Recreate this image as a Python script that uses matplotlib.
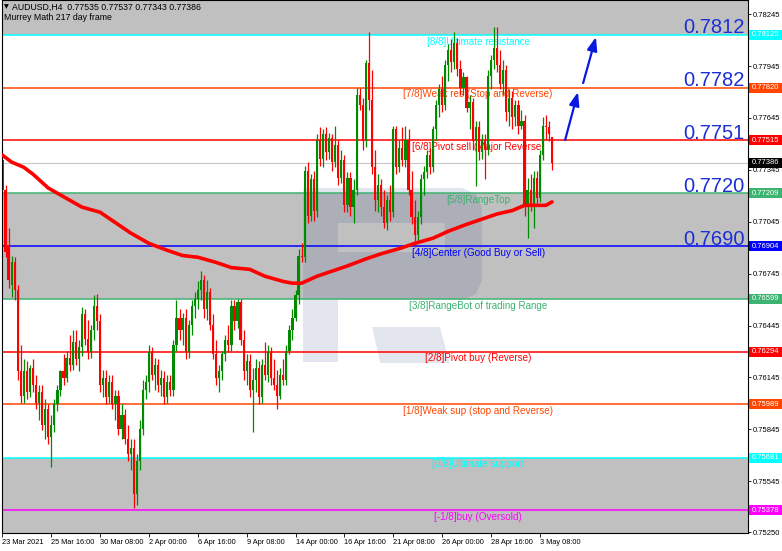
import numpy as np
import matplotlib
matplotlib.use("Agg")
import matplotlib.pyplot as plt
from matplotlib.patches import Rectangle, PathPatch, Polygon
from matplotlib.path import Path
from matplotlib.transforms import blended_transform_factory

plt.rcParams['font.family'] = ['Liberation Sans', 'DejaVu Sans']

# AUDUSD H4 candles, 23 Mar 2021 .. 3 May 2021
opens = [
    0.7740, 0.7723, 0.7691, 0.7668, 0.7681, 0.7665, 0.7618, 0.7604, 0.7618, 0.7606,
    0.7620, 0.7610, 0.7600, 0.7606, 0.7587, 0.7596, 0.7580, 0.7587, 0.7599, 0.7607,
    0.7618, 0.7614, 0.7626, 0.7622, 0.7635, 0.7625, 0.7632, 0.7651, 0.7637, 0.7629,
    0.7642, 0.7656, 0.7647, 0.7610, 0.7614, 0.7603, 0.7612, 0.7599, 0.7604, 0.7585,
    0.7593, 0.7579, 0.7570, 0.7574, 0.7547, 0.7566, 0.7585, 0.7607, 0.7612, 0.7629,
    0.7616, 0.7622, 0.7610, 0.7614, 0.7603, 0.7612, 0.7607, 0.7633, 0.7649, 0.7642,
    0.7649, 0.7629, 0.7645, 0.7656, 0.7660, 0.7665, 0.7671, 0.7654, 0.7664, 0.7645,
    0.7628, 0.7614, 0.7618, 0.7628, 0.7636, 0.7633, 0.7656, 0.7647, 0.7658, 0.7636,
    0.7618, 0.7624, 0.7607, 0.7613, 0.7620, 0.7603, 0.7622, 0.7616, 0.7629, 0.7614,
    0.7610, 0.7604, 0.7616, 0.7613, 0.7630, 0.7642, 0.7649, 0.7662, 0.7685, 0.7684,
    0.7734, 0.7708, 0.7729, 0.7711, 0.7752, 0.7741, 0.7755, 0.7745, 0.7753, 0.7739,
    0.7749, 0.7730, 0.7740, 0.7714, 0.7730, 0.7713, 0.7723, 0.7778, 0.7772, 0.7751,
    0.7796, 0.7775, 0.7736, 0.7717, 0.7726, 0.7713, 0.7704, 0.7717, 0.7710, 0.7758,
    0.7736, 0.7747, 0.7740, 0.7752, 0.7723, 0.7707, 0.7697, 0.7707, 0.7729, 0.7733,
    0.7743, 0.7736, 0.7758, 0.7772, 0.7781, 0.7772, 0.7795, 0.7804, 0.7797, 0.7808,
    0.7793, 0.7782, 0.7788, 0.7770, 0.7774, 0.7751, 0.7759, 0.7745, 0.7752, 0.7746,
    0.7789, 0.7798, 0.7805, 0.7795, 0.7784, 0.7792, 0.7768, 0.7776, 0.7765, 0.7772,
    0.7760, 0.7763, 0.7714, 0.7723, 0.7714, 0.7730, 0.7718, 0.7743, 0.7760, 0.7759,
    0.77535,
]
highs = [
    0.7746, 0.7726, 0.7701, 0.7685, 0.7684, 0.7668, 0.7633, 0.7625, 0.7624, 0.7622,
    0.7625, 0.7616, 0.7610, 0.7610, 0.7602, 0.7599, 0.7593, 0.7602, 0.7610, 0.7619,
    0.7628, 0.7630, 0.7639, 0.7642, 0.7642, 0.7636, 0.7655, 0.7654, 0.7648, 0.7645,
    0.7662, 0.7663, 0.7651, 0.7619, 0.7619, 0.7616, 0.7616, 0.7607, 0.7607, 0.7599,
    0.7596, 0.7587, 0.7579, 0.7579, 0.7570, 0.7590, 0.7613, 0.7616, 0.7633, 0.7632,
    0.7626, 0.7625, 0.7619, 0.7618, 0.7616, 0.7616, 0.7636, 0.7659, 0.7654, 0.7652,
    0.7654, 0.7648, 0.7659, 0.7664, 0.7670, 0.7676, 0.7674, 0.7671, 0.7666, 0.7651,
    0.7636, 0.7622, 0.7630, 0.7639, 0.7645, 0.7659, 0.7659, 0.7660, 0.7660, 0.7642,
    0.7628, 0.7628, 0.7620, 0.7625, 0.7624, 0.7625, 0.7635, 0.7633, 0.7632, 0.7625,
    0.7619, 0.7620, 0.7625, 0.7633, 0.7645, 0.7654, 0.7665, 0.7689, 0.7692, 0.7737,
    0.7739, 0.7732, 0.7734, 0.7755, 0.7759, 0.7758, 0.7759, 0.7756, 0.7755, 0.7760,
    0.7752, 0.7746, 0.7743, 0.7733, 0.7733, 0.7729, 0.7782, 0.7782, 0.7776, 0.7798,
    0.7814, 0.7792, 0.7746, 0.7732, 0.7729, 0.7723, 0.7720, 0.7726, 0.7760, 0.7760,
    0.7752, 0.7759, 0.7760, 0.7758, 0.7734, 0.7717, 0.7711, 0.7732, 0.7737, 0.7746,
    0.7747, 0.7760, 0.7775, 0.7784, 0.7789, 0.7798, 0.7807, 0.7810, 0.7814, 0.7811,
    0.7798, 0.7791, 0.7789, 0.7778, 0.7776, 0.7763, 0.7763, 0.7755, 0.7755, 0.7792,
    0.7801, 0.7817, 0.7817, 0.7804, 0.7798, 0.7795, 0.7781, 0.7780, 0.7775, 0.7775,
    0.7769, 0.7766, 0.7730, 0.7732, 0.7734, 0.7734, 0.7746, 0.7765, 0.7766, 0.7763,
    0.77537,
]
lows = [
    0.7717, 0.7684, 0.7666, 0.7661, 0.7659, 0.7613, 0.7600, 0.7600, 0.7602, 0.7603,
    0.7606, 0.7596, 0.7590, 0.7584, 0.7579, 0.7576, 0.7563, 0.7583, 0.7595, 0.7604,
    0.7610, 0.7612, 0.7618, 0.7619, 0.7622, 0.7618, 0.7627, 0.7633, 0.7625, 0.7626,
    0.7636, 0.7642, 0.7606, 0.7603, 0.7599, 0.7600, 0.7596, 0.7590, 0.7581, 0.7579,
    0.7576, 0.7566, 0.7561, 0.7539, 0.7541, 0.7561, 0.7581, 0.7602, 0.7606, 0.7613,
    0.7607, 0.7606, 0.7604, 0.7599, 0.7600, 0.7604, 0.7604, 0.7630, 0.7636, 0.7633,
    0.7625, 0.7626, 0.7639, 0.7649, 0.7654, 0.7659, 0.7649, 0.7648, 0.7642, 0.7625,
    0.7610, 0.7606, 0.7613, 0.7624, 0.7629, 0.7630, 0.7642, 0.7643, 0.7633, 0.7613,
    0.7610, 0.7603, 0.7583, 0.7606, 0.7599, 0.7600, 0.7613, 0.7612, 0.7610, 0.7607,
    0.7596, 0.7602, 0.7610, 0.7610, 0.7628, 0.7636, 0.7647, 0.7657, 0.7681, 0.7681,
    0.7704, 0.7705, 0.7705, 0.7707, 0.7737, 0.7736, 0.7740, 0.7741, 0.7734, 0.7736,
    0.7726, 0.7727, 0.7710, 0.7710, 0.7708, 0.7704, 0.7720, 0.7769, 0.7746, 0.7748,
    0.7769, 0.7732, 0.7711, 0.7710, 0.7708, 0.7701, 0.7700, 0.7705, 0.7707, 0.7732,
    0.7733, 0.7737, 0.7736, 0.7720, 0.7703, 0.7690, 0.7693, 0.7703, 0.7720, 0.7730,
    0.7732, 0.7733, 0.7752, 0.7765, 0.7768, 0.7769, 0.7786, 0.7791, 0.7793, 0.7789,
    0.7778, 0.7778, 0.7768, 0.7758, 0.7746, 0.7725, 0.7740, 0.7741, 0.7729, 0.7743,
    0.7781, 0.7793, 0.7791, 0.7781, 0.7778, 0.7763, 0.7760, 0.7758, 0.7760, 0.7755,
    0.7758, 0.7708, 0.7695, 0.7711, 0.7701, 0.7714, 0.7716, 0.7740, 0.7752, 0.7751,
    0.77343,
]
closes = [
    0.7723, 0.7687, 0.7671, 0.7681, 0.7665, 0.7618, 0.7604, 0.7618, 0.7606, 0.7620,
    0.7610, 0.7600, 0.7606, 0.7587, 0.7596, 0.7580, 0.7587, 0.7599, 0.7607, 0.7618,
    0.7614, 0.7626, 0.7622, 0.7635, 0.7625, 0.7632, 0.7651, 0.7637, 0.7629, 0.7642,
    0.7656, 0.7647, 0.7610, 0.7614, 0.7603, 0.7612, 0.7599, 0.7604, 0.7585, 0.7593,
    0.7579, 0.7570, 0.7574, 0.7547, 0.7566, 0.7585, 0.7607, 0.7612, 0.7629, 0.7616,
    0.7622, 0.7610, 0.7614, 0.7603, 0.7612, 0.7607, 0.7633, 0.7649, 0.7642, 0.7649,
    0.7629, 0.7645, 0.7656, 0.7660, 0.7665, 0.7671, 0.7654, 0.7664, 0.7645, 0.7628,
    0.7614, 0.7618, 0.7628, 0.7636, 0.7633, 0.7656, 0.7647, 0.7658, 0.7636, 0.7618,
    0.7624, 0.7607, 0.7613, 0.7620, 0.7603, 0.7622, 0.7616, 0.7629, 0.7614, 0.7610,
    0.7604, 0.7616, 0.7613, 0.7630, 0.7642, 0.7649, 0.7662, 0.7685, 0.7684, 0.7734,
    0.7708, 0.7729, 0.7711, 0.7752, 0.7741, 0.7755, 0.7745, 0.7753, 0.7739, 0.7749,
    0.7730, 0.7740, 0.7714, 0.7730, 0.7713, 0.7723, 0.7778, 0.7772, 0.7751, 0.7796,
    0.7775, 0.7736, 0.7717, 0.7726, 0.7713, 0.7704, 0.7717, 0.7710, 0.7758, 0.7736,
    0.7747, 0.7740, 0.7752, 0.7723, 0.7707, 0.7697, 0.7707, 0.7729, 0.7733, 0.7743,
    0.7736, 0.7758, 0.7772, 0.7781, 0.7772, 0.7795, 0.7804, 0.7797, 0.7808, 0.7793,
    0.7782, 0.7788, 0.7770, 0.7774, 0.7751, 0.7759, 0.7745, 0.7752, 0.7746, 0.7789,
    0.7798, 0.7805, 0.7795, 0.7784, 0.7792, 0.7768, 0.7776, 0.7765, 0.7772, 0.7760,
    0.7763, 0.7714, 0.7723, 0.7714, 0.7730, 0.7718, 0.7743, 0.7760, 0.7759, 0.7755,
    0.77386,
]

# 217-period moving average, sampled at some bars
ma_idx = [0, 3, 7, 10, 15, 19, 26, 32, 37, 42,
          48, 54, 59, 64, 70, 75, 81, 86, 92, 95,
          98, 103, 108, 113, 119, 124, 130, 135, 141, 146,
          152, 157, 162, 167, 171, 178, 180]
ma_val = [0.7743, 0.7739, 0.7736, 0.7732, 0.7724, 0.7720, 0.7713, 0.7710, 0.7704, 0.7698,
          0.7692, 0.7688, 0.7685, 0.7684, 0.7681, 0.7678, 0.7677, 0.7673, 0.7670, 0.7669,
          0.7669, 0.7673, 0.7676, 0.7679, 0.7683, 0.7686, 0.7689, 0.7692, 0.7695, 0.7699,
          0.7703, 0.7706, 0.7709, 0.7711, 0.7714, 0.7714, 0.7716]

# Murrey Math levels
level_prices = [0.78125, 0.77820, 0.77515, 0.77209, 0.76904,
                0.76599, 0.76294, 0.75989, 0.75681, 0.75378]
level_names = ["[8/8]Ultimate resistance", "[7/8]Weak res (Stop and Reverse)",
               "[6/8]Pivot sell (Major Reverse)", "[5/8]RangeTop",
               "[4/8]Center (Good Buy or Sell)", "[3/8]RangeBot of trading Range",
               "[2/8]Pivot buy (Reverse)", "[1/8]Weak sup (stop and Reverse)",
               "[0/8]Ultimate support", "[-1/8]buy (Oversold)"]
level_colors = ['#00ffff', '#ff4500', '#ff0000', '#3cb371', '#0000ff',
                '#3cb371', '#ff0000', '#ff4500', '#00ffff', '#ff00ff']
big_labels = ["0.7812", "0.7782", "0.7751", "0.7720", "0.7690"]

# target arrows: (start bar, start price, end bar, end price)
arrows = [(184.3, 0.77518, 188.5, 0.77795),
          (190.2, 0.77847, 194.4, 0.78113)]

date_ticks = [0, 16, 32, 48, 64, 80, 96, 112, 128, 144, 160, 176]
date_labels = ["23 Mar 2021", "25 Mar 16:00", "30 Mar 08:00", "2 Apr 00:00",
               "6 Apr 16:00", "9 Apr 08:00", "14 Apr 00:00", "16 Apr 16:00",
               "21 Apr 08:00", "26 Apr 00:00", "28 Apr 16:00", "3 May 08:00"]
# scale labels that are not hidden behind the level boxes
price_ticks = [0.78245, 0.77945, 0.77645, 0.77345, 0.77045, 0.76745,
               0.76445, 0.76145, 0.75845, 0.75545, 0.75250]

W, H = 782, 551
fig = plt.figure(figsize=(W / 100, H / 100), dpi=100)
fig.patch.set_facecolor('white')
ax = fig.add_axes([2 / W, 18 / H, 746 / W, 533 / H])
ymin, ymax = 0.75246, 0.78327
ax.set_xlim(-0.15, 244.2)
ax.set_ylim(ymin, ymax)
ax.set_facecolor('white')

gray = '#c0c0c0'
ax.axhspan(level_prices[0], ymax, color=gray, lw=0, zorder=0)
ax.axhspan(level_prices[5], level_prices[3], color=gray, lw=0, zorder=0)
ax.axhspan(ymin, level_prices[8], color=gray, lw=0, zorder=0)

# faint broker logo in the background (axes fractions)
outer = [(0.4035, 0.6473), (0.6166, 0.6473), (0.6354, 0.6360), (0.6434, 0.6098),
         (0.6434, 0.4747), (0.6354, 0.4484), (0.6166, 0.4371), (0.4504, 0.4371),
         (0.4504, 0.3208), (0.4035, 0.3208), (0.4035, 0.6473)]
hole = [(0.4504, 0.5816), (0.4504, 0.5272), (0.5938, 0.5272), (0.5938, 0.5816),
        (0.4504, 0.5816)]
verts = outer + hole
codes = ([Path.MOVETO] + [Path.LINETO] * (len(outer) - 2) + [Path.CLOSEPOLY]
         + [Path.MOVETO] + [Path.LINETO] * (len(hole) - 2) + [Path.CLOSEPOLY])
logo_kw = dict(facecolor=(0.12, 0.22, 0.48), alpha=0.12, edgecolor='none',
               transform=ax.transAxes, zorder=0.5)
ax.add_patch(PathPatch(Path(verts, codes), **logo_kw))
ax.add_patch(Polygon([(0.496, 0.3865), (0.587, 0.3865), (0.600, 0.3189), (0.507, 0.3189)],
                     closed=True, **logo_kw))

# level lines and their names
for p, name, col in zip(level_prices, level_names, level_colors):
    ax.axhline(p, color=col, lw=1.1, zorder=1)
    ax.annotate(name, xy=(155.8, p), xytext=(0, -1.2), textcoords='offset points',
                ha='center', va='top', fontsize=7.1, color=col, zorder=1.5)

ax.axhline(closes[-1], color='#c8c8c8', lw=0.8, zorder=0.8)

# candles
o = np.array(opens)
h = np.array(highs)
l = np.array(lows)
c = np.array(closes)
idx = np.arange(len(c))
cols = np.where(c >= o, '#008a00', '#ff0000')
ax.vlines(idx, l, h, colors=cols, lw=0.9, zorder=2)
body = np.maximum(np.abs(c - o), 0.00002)
ax.bar(idx, body, bottom=np.minimum(o, c), width=0.72, color=cols, lw=0, zorder=2.1)

# moving average
ax.plot(ma_idx, ma_val, color='#ff0000', lw=2.6, solid_capstyle='round', zorder=3)

# arrows
for x0, y0, x1, y1 in arrows:
    ax.annotate('', xy=(x1, y1), xytext=(x0, y0),
                arrowprops=dict(arrowstyle='-|>,head_length=0.8,head_width=0.3',
                                color='#0a18e0', lw=1.6, mutation_scale=10,
                                shrinkA=0, shrinkB=0), zorder=4)

trans = blended_transform_factory(ax.transAxes, ax.transData)
for k, lab in enumerate(big_labels):
    ax.annotate(lab, xy=(1, level_prices[k]), xycoords=trans, xytext=(-2.2, 1.2),
                textcoords='offset points', ha='right', va='baseline',
                fontsize=14.5, color='#1c2fd6', zorder=4)

# axes, ticks
for s in ax.spines.values():
    s.set_color('black')
    s.set_linewidth(0.8)
ax.yaxis.tick_right()
ax.set_yticks(price_ticks)
ax.set_yticklabels(['%.5f' % v for v in price_ticks])
ax.tick_params(axis='y', length=2.5, width=0.6, pad=1.2, labelsize=5.5)
ax.set_xticks(date_ticks)
ax.set_xticklabels(date_labels, ha='left')
ax.tick_params(axis='x', length=3, width=0.6, pad=1.5, labelsize=5.3)

# price boxes on the right scale
box_h = 10 / 533 * (ymax - ymin)
boxes = list(zip(level_prices, level_colors)) + [(closes[-1], '#000000')]
for p, col in boxes:
    ax.add_patch(Rectangle((1.0015, p - box_h / 2), 0.045, box_h, transform=trans,
                           clip_on=False, facecolor=col, edgecolor='none', zorder=5))
    ax.text(1.0 + 4 / 746, p, '%.5f' % p, transform=trans, color='white',
            fontsize=5.5, ha='left', va='center', zorder=6, clip_on=False)

# header
fig.text(4 / W, 1 - 7 / H, '\u25bc', fontsize=4.5, va='center', ha='left',
         family=['DejaVu Sans'])
fig.text(12 / W, 1 - 7 / H, 'AUDUSD,H4  %.5f %.5f %.5f %.5f'
         % (opens[-1], highs[-1], lows[-1], closes[-1]),
         fontsize=6.3, va='center', ha='left')
fig.text(4 / W, 1 - 18 / H, 'Murrey Math 217 day frame', fontsize=6.3,
         va='center', ha='left')

fig.savefig('out.png', dpi=100)
